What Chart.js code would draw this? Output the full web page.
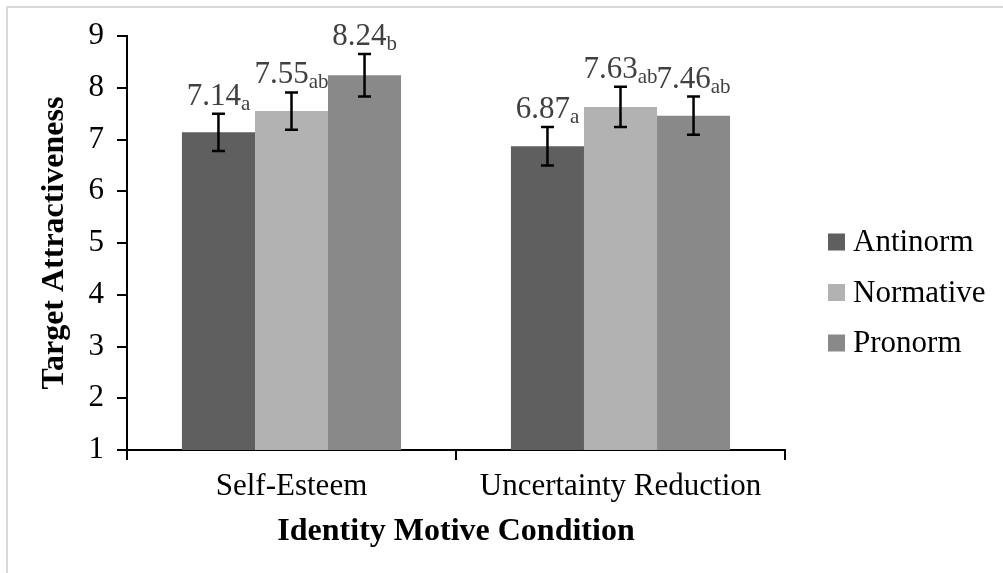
<!DOCTYPE html>
<html>
<head>
<meta charset="utf-8">
<script src="https://cdn.jsdelivr.net/npm/chart.js@4"></script>
<style>
  body { margin: 0; background: #fff; }
  #frame { position: absolute; left: 6px; top: 6px; width: 1010px; height: 580px; border: 2px solid #d9d9d9; }
  #wrap { position: absolute; left: 0; top: 0; width: 1003px; height: 573px; }
</style>
</head>
<body>
<div id="frame"></div>
<div id="wrap"><canvas id="chart" width="1003" height="573"></canvas></div>
<script>
// data
var categories = ['Self-Esteem', 'Uncertainty Reduction'];
var seriesNames = ['Antinorm', 'Normative', 'Pronorm'];
var antinorm = [7.14, 6.87];
var normative = [7.55, 7.63];
var pronorm = [8.24, 7.46];
// error bar half-widths
var antinormErr = [0.36, 0.37];
var normativeErr = [0.36, 0.39];
var pronormErr = [0.41, 0.37];
// subscript letters
var antinormSub = ['a', 'a'];
var normativeSub = ['ab', 'ab'];
var pronormSub = ['b', 'ab'];
var yTicks = [1, 2, 3, 4, 5, 6, 7, 8, 9];

var colors = ['#5f5f5f', '#b2b2b2', '#898989'];
var serif = "'Liberation Serif', 'Times New Roman', serif";

var errorBars = {
  id: 'errorBars',
  afterDatasetsDraw: function(chart) {
    var ctx = chart.ctx;
    var y = chart.scales.y;
    ctx.save();
    chart.data.datasets.forEach(function(ds, i) {
      var meta = chart.getDatasetMeta(i);
      meta.data.forEach(function(bar, j) {
        var v = ds.data[j], e = ds.err[j];
        var top = y.getPixelForValue(v + e);
        var bot = y.getPixelForValue(v - e);
        ctx.strokeStyle = '#000';
        ctx.lineWidth = 2.5;
        ctx.beginPath();
        ctx.moveTo(bar.x, top); ctx.lineTo(bar.x, bot);
        ctx.moveTo(bar.x - 6.5, top); ctx.lineTo(bar.x + 6.5, top);
        ctx.moveTo(bar.x - 6.5, bot); ctx.lineTo(bar.x + 6.5, bot);
        ctx.stroke();

        // value label with subscript
        var main = v.toFixed(2), sub = ds.sub[j];
        ctx.font = '31px ' + serif;
        var w1 = ctx.measureText(main).width;
        ctx.font = '21px ' + serif;
        var w2 = ctx.measureText(sub).width;
        var x0 = bar.x - (w1 + w2) / 2;
        var base = top - 9;
        ctx.fillStyle = '#404040';
        ctx.textAlign = 'left';
        ctx.textBaseline = 'alphabetic';
        ctx.font = '31px ' + serif;
        ctx.fillText(main, x0, base);
        ctx.font = '21px ' + serif;
        ctx.fillText(sub, x0 + w1, base + 5);
      });
    });
    ctx.restore();
  }
};

var sideLegend = {
  id: 'sideLegend',
  afterDraw: function(chart) {
    var ctx = chart.ctx;
    ctx.save();
    chart.data.datasets.forEach(function(ds, i) {
      var cy = 242 + i * 50.5;
      ctx.fillStyle = ds.backgroundColor;
      ctx.fillRect(828, cy - 8.5, 17, 17);
      ctx.fillStyle = '#000';
      ctx.font = '31px ' + serif;
      ctx.textAlign = 'left';
      ctx.textBaseline = 'middle';
      ctx.fillText(ds.label, 853, cy + 1);
    });
    ctx.restore();
  }
};

var ctx = document.getElementById('chart').getContext('2d');
new Chart(ctx, {
  type: 'bar',
  data: {
    labels: categories,
    datasets: [
      { label: seriesNames[0], data: antinorm, err: antinormErr, sub: antinormSub, backgroundColor: colors[0] },
      { label: seriesNames[1], data: normative, err: normativeErr, sub: normativeSub, backgroundColor: colors[1] },
      { label: seriesNames[2], data: pronorm, err: pronormErr, sub: pronormSub, backgroundColor: colors[2] }
    ]
  },
  options: {
    responsive: false,
    animation: false,
    categoryPercentage: 0.666,
    barPercentage: 1.0,
    layout: { padding: { left: 0, right: 218, top: 36, bottom: 0 } },
    plugins: {
      legend: { display: false },
      tooltip: { enabled: false }
    },
    scales: {
      x: {
        afterFit: function(scale) { scale.height = 123; },
        grid: { offset: true, drawOnChartArea: false, drawTicks: true, tickLength: 10, color: '#000', lineWidth: 2 },
        border: { display: true, color: '#000', width: 2 },
        ticks: { color: '#000', padding: 8, font: { family: serif, size: 31 } },
        title: { display: true, text: 'Identity Motive Condition', color: '#000',
                 font: { family: serif, size: 32, weight: 'bold' }, padding: { top: 0, bottom: 22 } }
      },
      y: {
        min: 1,
        max: 9,
        afterFit: function(scale) { scale.width = 127; },
        afterBuildTicks: function(scale) { scale.ticks = yTicks.map(function(v) { return { value: v }; }); },
        grid: { drawOnChartArea: false, drawTicks: true, tickLength: 10, color: '#000', lineWidth: 2 },
        border: { display: true, color: '#000', width: 2 },
        ticks: { color: '#000', padding: 13, font: { family: serif, size: 31 } },
        title: { display: true, text: 'Target Attractiveness', color: '#000',
                 font: { family: serif, size: 32, weight: 'bold' }, padding: { top: 36, bottom: 0 } }
      }
    }
  },
  plugins: [errorBars, sideLegend]
});
</script>
</body>
</html>
